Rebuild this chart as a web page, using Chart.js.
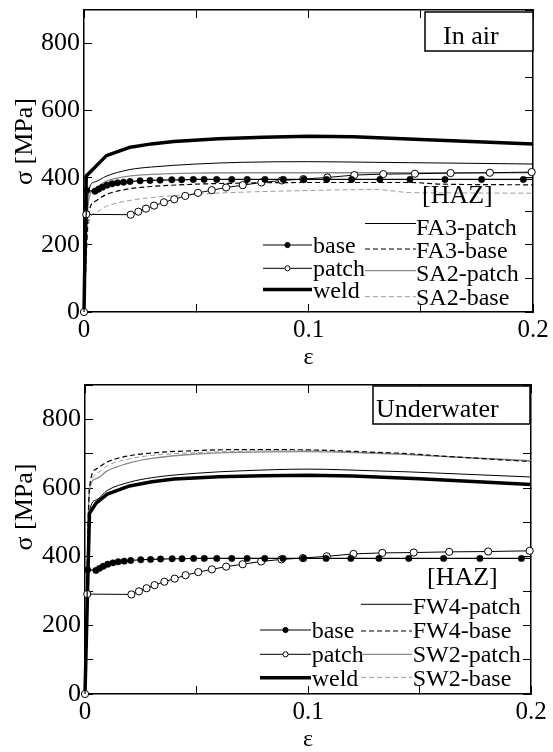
<!DOCTYPE html>
<html>
<head>
<meta charset="utf-8">
<script src="https://cdn.jsdelivr.net/npm/chart.js@4.4.0/dist/chart.umd.min.js"></script>
<style>
  html, body { margin: 0; padding: 0; background: #fff; }
  #wrap { position: relative; width: 553px; height: 752px; }
  canvas { position: absolute; left: 0; }
</style>
</head>
<body>
<div id="wrap">
  <canvas id="airChart" width="553" height="376" style="top:0"></canvas>
  <canvas id="waterChart" width="553" height="376" style="top:376px"></canvas>
</div>
<script>
// parent material curves (same in both panels)
const baseStrain = [0, 0.0012, 0.0049, 0.0065, 0.0082, 0.0102, 0.0125, 0.0149, 0.0176, 0.0205, 0.025, 0.0294, 0.0339, 0.0391, 0.0435, 0.0487, 0.0535, 0.0591, 0.0658, 0.0727, 0.0806, 0.0888, 0.098, 0.1081, 0.1192, 0.1318, 0.1452, 0.1608, 0.1771, 0.1957, 0.2];
const baseStress = [0, 362, 360, 366, 372, 378, 382, 385, 387, 389, 391, 392, 393, 394, 394, 395, 395, 395, 395, 395, 395, 395, 395, 395, 395, 395, 395, 395, 395, 395, 395];

const patchStrain = [0, 0.001, 0.0208, 0.0242, 0.0276, 0.0312, 0.0356, 0.0402, 0.0451, 0.0508, 0.0569, 0.0633, 0.0707, 0.079, 0.0881, 0.0977, 0.1084, 0.1204, 0.1333, 0.1474, 0.1633, 0.1808, 0.1994];
const patchStress = [0, 291, 290, 299, 308, 317, 327, 336, 346, 355, 363, 371, 378, 386, 392, 396, 401, 408, 411, 412, 414, 415, 417];

// weld metal
const airWeldStrain = [0, 0.001, 0.01, 0.02, 0.03, 0.04, 0.06, 0.08, 0.1, 0.12, 0.15, 0.2];
const airWeld = [0, 405, 466, 490, 501, 508, 516, 521, 524, 522, 514, 501];
const waterWeldStrain = [0, 0.002, 0.005, 0.01, 0.02, 0.03, 0.04, 0.06, 0.08, 0.1, 0.12, 0.15, 0.2];
const waterWeld = [0, 526, 556, 582, 606, 618, 626, 633, 636, 637, 635, 627, 610];

// HAZ curves share one strain grid
const hazStrain = [0, 0.002, 0.005, 0.01, 0.02, 0.03, 0.05, 0.07, 0.1, 0.13, 0.145, 0.16, 0.2];

// in air
const fa3Patch = [0, 360, 388, 405, 424, 432, 441, 446, 448, 446, 445, 444, 441];
const fa3Base = [0, 290, 330, 350, 367, 374, 381, 384, 386, 386, 386, 381, 379];
const sa2Patch = [0, 330, 368, 390, 405, 410, 414, 415, 415, 415, 415, 415, 415];
const sa2Base = [0, 260, 295, 315, 332, 341, 351, 357, 362, 365, 356, 355, 354];

// underwater
const fw4Patch = [0, 530, 565, 593, 617, 630, 643, 650, 655, 650, 647, 643, 632];
const fw4Base = [0, 600, 655, 676, 694, 702, 709, 712, 711, 704, 700, 693, 677];
const sw2Patch = [0, 595, 627, 650, 673, 686, 699, 704, 706, 701, 697, 692, 680];
const sw2Base = [0, 585, 640, 665, 685, 695, 703, 707, 708, 702, 698, 692, 678];

const xTicks = [0, 0.1, 0.2];
const yTicks = [0, 200, 400, 600, 800];

const serif = "'Liberation Serif', 'Times New Roman', serif";
const grayLine = "#8a8a8a";
const grayDash = "#9c9c9c";

const toPoints = (xs, ys) => xs.map((x, i) => ({ x: x, y: ys[i] }));

// base + patch + weld datasets, then the four HAZ curves
const getDatasets = (weldStrain, weld, haz) => {
  const lastBase = baseStrain.length - 1;
  const sets = [
    {
      label: "base",
      data: toPoints(baseStrain, baseStress),
      borderColor: "#000",
      borderWidth: 1.2,
      pointRadius: (c) => (c.dataIndex === 0 || c.dataIndex === lastBase ? 0 : 3.2),
      pointBackgroundColor: "#000",
      pointBorderColor: "#000",
      pointBorderWidth: 0.5,
    },
    {
      label: "patch",
      data: toPoints(patchStrain, patchStress),
      borderColor: "#000",
      borderWidth: 1,
      pointRadius: 3.6,
      pointBackgroundColor: "#fff",
      pointBorderColor: "#000",
      pointBorderWidth: 1,
    },
    {
      label: "weld",
      data: toPoints(weldStrain, weld),
      borderColor: "#000",
      borderWidth: 3.5,
      borderJoinStyle: "round",
      pointRadius: 0,
      tension: 0,
    },
  ];
  haz.forEach((h) => {
    sets.push({
      label: h.label,
      data: toPoints(hazStrain, h.values),
      borderColor: h.color,
      borderWidth: h.width,
      borderDash: h.dash,
      pointRadius: 0,
      cubicInterpolationMode: "monotone",
    });
  });
  return sets;
};

// keep label overflow from shrinking the plot area
const noPad = (s) => {
  s.paddingTop = 0;
  s.paddingBottom = 0;
  s.paddingLeft = 0;
  s.paddingRight = 0;
};

const getScales = (g) => ({
  x: {
    type: "linear",
    position: "bottom",
    min: 0,
    max: 0.2,
    ticks: {
      stepSize: 0.05,
      autoSkip: false,
      maxRotation: 0,
      color: "#000",
      padding: 11,
      font: { family: serif, size: 25 },
      callback: (v) => {
        const hit = xTicks.find((t) => Math.abs(t - v) < 1e-6);
        return hit === undefined ? "" : String(hit);
      },
    },
    grid: { drawOnChartArea: false, tickLength: -8, color: "#000", lineWidth: 1 },
    border: { color: "#000", width: 1.5 },
    title: {
      display: true,
      text: "ε",
      color: "#000",
      font: { family: serif, size: 24, lineHeight: 1 },
      padding: { top: 0, bottom: g.xTitlePad },
    },
    afterFit: (s) => { s.height = g.xHeight; noPad(s); },
  },
  xTop: {
    type: "linear",
    position: "top",
    min: 0,
    max: 0.2,
    ticks: { stepSize: 0.05, display: false },
    grid: { drawOnChartArea: false, tickLength: -8, color: "#000", lineWidth: 1 },
    border: { color: "#000", width: 1.5 },
    afterFit: (s) => { s.height = 0; noPad(s); },
  },
  y: {
    type: "linear",
    position: "left",
    min: 0,
    max: 900,
    ticks: {
      stepSize: 100,
      color: "#000",
      padding: 12,
      font: { family: serif, size: 26 },
      callback: (v) => (yTicks.includes(v) ? String(v) : ""),
    },
    grid: { drawOnChartArea: false, tickLength: -8, color: "#000", lineWidth: 1 },
    border: { color: "#000", width: 1.5 },
    title: {
      display: true,
      text: "\u00A0".repeat(g.yTitleShift) + "σ [MPa]",
      color: "#000",
      font: { family: serif, size: 26, lineHeight: 1 },
      padding: { top: 12, bottom: 0 },
    },
    afterFit: (s) => { s.width = g.yWidth; noPad(s); },
  },
  yRight: {
    type: "linear",
    position: "right",
    min: 0,
    max: 900,
    ticks: { stepSize: 100, display: false },
    grid: { drawOnChartArea: false, tickLength: -8, color: "#000", lineWidth: 1 },
    border: { color: "#000", width: 1.5 },
    afterFit: (s) => { s.width = 0; noPad(s); },
  },
});

// legend, [HAZ] note and the condition box, drawn over the plot
const panelNotes = {
  id: "panelNotes",
  afterDraw: (chart, args, opts) => {
    const ctx = chart.ctx;
    ctx.save();
    ctx.fillStyle = "#000";
    ctx.textAlign = "left";
    ctx.textBaseline = "alphabetic";
    opts.items.forEach((it) => {
      ctx.beginPath();
      ctx.setLineDash(it.dash || []);
      ctx.strokeStyle = it.color;
      ctx.lineWidth = it.width;
      ctx.moveTo(it.x1, it.lineY);
      ctx.lineTo(it.x2, it.lineY);
      ctx.stroke();
      ctx.setLineDash([]);
      if (it.marker) {
        ctx.beginPath();
        ctx.arc((it.x1 + it.x2) / 2, it.lineY, 2.6, 0, Math.PI * 2);
        ctx.fillStyle = it.marker === "open" ? "#fff" : "#000";
        ctx.fill();
        ctx.lineWidth = 1;
        ctx.strokeStyle = "#000";
        ctx.stroke();
      }
      ctx.fillStyle = "#000";
      ctx.font = `24px ${serif}`;
      ctx.fillText(it.label, it.textX, it.textY);
    });
    ctx.font = `26px ${serif}`;
    ctx.fillText("[HAZ]", opts.haz.x, opts.haz.y);
    const b = opts.box;
    ctx.fillStyle = "#fff";
    ctx.fillRect(b.x, b.y, b.w, b.h);
    ctx.lineWidth = 1.5;
    ctx.strokeStyle = "#000";
    ctx.strokeRect(b.x, b.y, b.w, b.h);
    ctx.fillStyle = "#000";
    ctx.fillText(b.text, b.tx, b.ty);
    ctx.restore();
  },
};

const getLegendItems = (L, R, names) => [
  { label: "base", x1: L.x1, x2: L.x2, lineY: L.rows[0], textX: L.tx, textY: L.text[0], color: "#000", width: 1.2, marker: "filled" },
  { label: "patch", x1: L.x1, x2: L.x2, lineY: L.rows[1], textX: L.tx, textY: L.text[1], color: "#000", width: 1, marker: "open" },
  { label: "weld", x1: L.x1, x2: L.x2, lineY: L.rows[2], textX: L.tx, textY: L.text[2], color: "#000", width: 3.5 },
  { label: names[0], x1: R.x1, x2: R.x2, lineY: R.rows[0], textX: R.tx, textY: R.text[0], color: "#000", width: 1 },
  { label: names[1], x1: R.x1, x2: R.x2, lineY: R.rows[1], textX: R.tx, textY: R.text[1], color: "#000", width: 1.2, dash: [5, 3] },
  { label: names[2], x1: R.x1, x2: R.x2, lineY: R.rows[2], textX: R.tx, textY: R.text[2], color: grayLine, width: 1.3 },
  { label: names[3], x1: R.x1, x2: R.x2, lineY: R.rows[3], textX: R.tx, textY: R.text[3], color: grayDash, width: 1, dash: [5, 3] },
];

const getChart = (canvasId, weldStrain, weld, haz, g, notes) => {
  return new Chart(document.getElementById(canvasId), {
    type: "line",
    data: { datasets: getDatasets(weldStrain, weld, haz) },
    options: {
      responsive: false,
      animation: false,
      clip: false,
      layout: { padding: g.padding },
      scales: getScales(g),
      plugins: {
        legend: { display: false },
        tooltip: { enabled: false },
        panelNotes: notes,
      },
    },
    plugins: [panelNotes],
  });
};

const airHaz = [
  { label: "FA3-patch", values: fa3Patch, color: "#000", width: 1 },
  { label: "FA3-base", values: fa3Base, color: "#000", width: 1.2, dash: [5, 3] },
  { label: "SA2-patch", values: sa2Patch, color: grayLine, width: 1.3 },
  { label: "SA2-base", values: sa2Base, color: grayDash, width: 1, dash: [5, 3] },
];
const waterHaz = [
  { label: "FW4-patch", values: fw4Patch, color: "#000", width: 1 },
  { label: "FW4-base", values: fw4Base, color: "#000", width: 1.2, dash: [5, 3] },
  { label: "SW2-patch", values: sw2Patch, color: grayLine, width: 1.3 },
  { label: "SW2-base", values: sw2Base, color: grayDash, width: 1, dash: [5, 3] },
];

getChart(
  "airChart",
  airWeldStrain,
  airWeld,
  airHaz,
  { padding: { left: 0, right: 20, top: 10, bottom: 0 }, yWidth: 84, xHeight: 64, xTitlePad: 6, yTitleShift: 6 },
  {
    items: getLegendItems(
      { x1: 263, x2: 312, tx: 313, rows: [245, 268.3, 289.5], text: [253.3, 276, 298.3] },
      { x1: 365, x2: 416, tx: 416, rows: [223.5, 249, 270.7, 296.7], text: [235, 257.5, 281, 305] },
      ["FA3-patch", "FA3-base", "SA2-patch", "SA2-base"]
    ),
    haz: { x: 422, y: 203 },
    box: { x: 425, y: 12, w: 108, h: 39, text: "In air", tx: 443, ty: 44 },
  }
);

getChart(
  "waterChart",
  waterWeldStrain,
  waterWeld,
  waterHaz,
  { padding: { left: 0, right: 22, top: 9, bottom: 0 }, yWidth: 85, xHeight: 58, xTitlePad: 0, yTitleShift: 10 },
  {
    items: getLegendItems(
      { x1: 260, x2: 311, tx: 311.7, rows: [254, 278.3, 301.7], text: [262.3, 285.7, 310] },
      { x1: 361, x2: 412, tx: 412.7, rows: [228.3, 255, 278.3, 301.3], text: [238.3, 262.3, 285.7, 310] },
      ["FW4-patch", "FW4-base", "SW2-patch", "SW2-base"]
    ),
    haz: { x: 427, y: 209 },
    box: { x: 373, y: 10, w: 157, h: 38, text: "Underwater", tx: 376, ty: 40.7 },
  }
);
</script>
</body>
</html>
